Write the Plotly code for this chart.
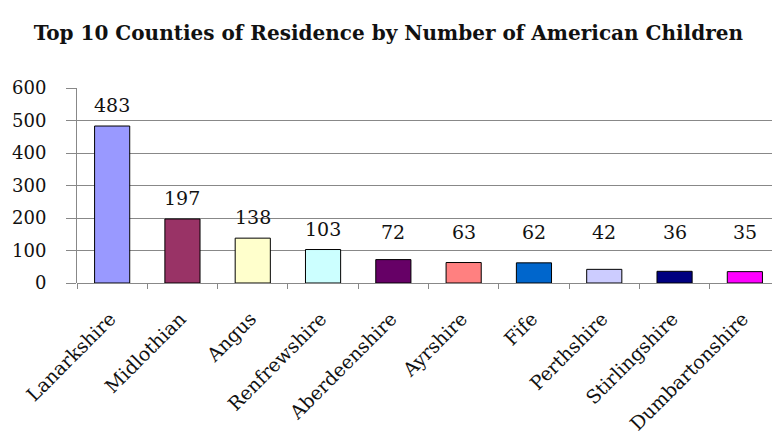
import plotly.graph_objects as go

# Counties and number of American children resident in each
counties = ["Lanarkshire", "Midlothian", "Angus", "Renfrewshire", "Aberdeenshire",
            "Ayrshire", "Fife", "Perthshire", "Stirlingshire", "Dumbartonshire"]
children = [483, 197, 138, 103, 72, 63, 62, 42, 36, 35]
bar_colors = ["#9999FF", "#993366", "#FFFFCC", "#CCFFFF", "#660066",
              "#FF8080", "#0066CC", "#CCCCFF", "#000080", "#FF00FF"]
y_ticks = [0, 100, 200, 300, 400, 500, 600]

SERIF = "DejaVu Serif"
PLOT_H = 195            # plot area height in px
Y_MAX = 600
PX_PER_UNIT = PLOT_H / Y_MAX
LABEL_GAP = 21          # px between bar top and label centre
LABEL_FLOOR = 51        # labels never sit lower than this many px above the baseline

fig = go.Figure()
fig.add_trace(go.Bar(
    x=counties,
    y=children,
    width=0.5,
    marker=dict(color=bar_colors, line=dict(color="#000000", width=1)),
    hoverinfo="x+y",
))

# value labels floating above each bar; short bars share a common label row
for name, val in zip(counties, children):
    shift = max(LABEL_GAP, LABEL_FLOOR - val * PX_PER_UNIT)
    fig.add_annotation(
        x=name, y=val, text=str(val), showarrow=False,
        xref="x", yref="y", yanchor="middle", yshift=shift,
        font=dict(family=SERIF, size=19, color="#111111"),
    )

fig.update_layout(
    width=772, height=441,
    margin=dict(l=77, r=0, t=88, b=158, autoexpand=False),
    paper_bgcolor="white", plot_bgcolor="white",
    showlegend=False,
    title=dict(
        text="<b>Top 10 Counties of Residence by Number of American Children</b>",
        font=dict(family=SERIF, size=20, color="#111111"),
        x=0.503, xref="container", xanchor="center",
        y=1 - 33 / 441, yref="container", yanchor="middle",
        automargin=False,
    ),
)

fig.update_xaxes(
    type="category",
    range=[-0.5, 9.386],
    automargin=False,
    tickson="boundaries",
    ticks="outside", ticklen=5, tickcolor="#888888", tickwidth=1,
    tickangle=-45,
    tickfont=dict(family=SERIF, size=19, color="#111111"),
    ticklabelstandoff=20,
    ticklabelshift=-2,
    showline=False, showgrid=False, zeroline=False,
)

fig.update_yaxes(
    range=[0, Y_MAX],
    tickvals=y_ticks,
    automargin=False,
    ticks="outside", ticklen=10, tickcolor="#888888", tickwidth=1,
    tickfont=dict(family=SERIF, size=18, color="#111111"),
    ticklabelstandoff=16,
    showgrid=True, gridcolor="#888888", gridwidth=1,
    showline=True, linecolor="#888888", linewidth=1,
    zeroline=True, zerolinecolor="#888888", zerolinewidth=1,
    fixedrange=True,
)

fig.write_html("out.html")
